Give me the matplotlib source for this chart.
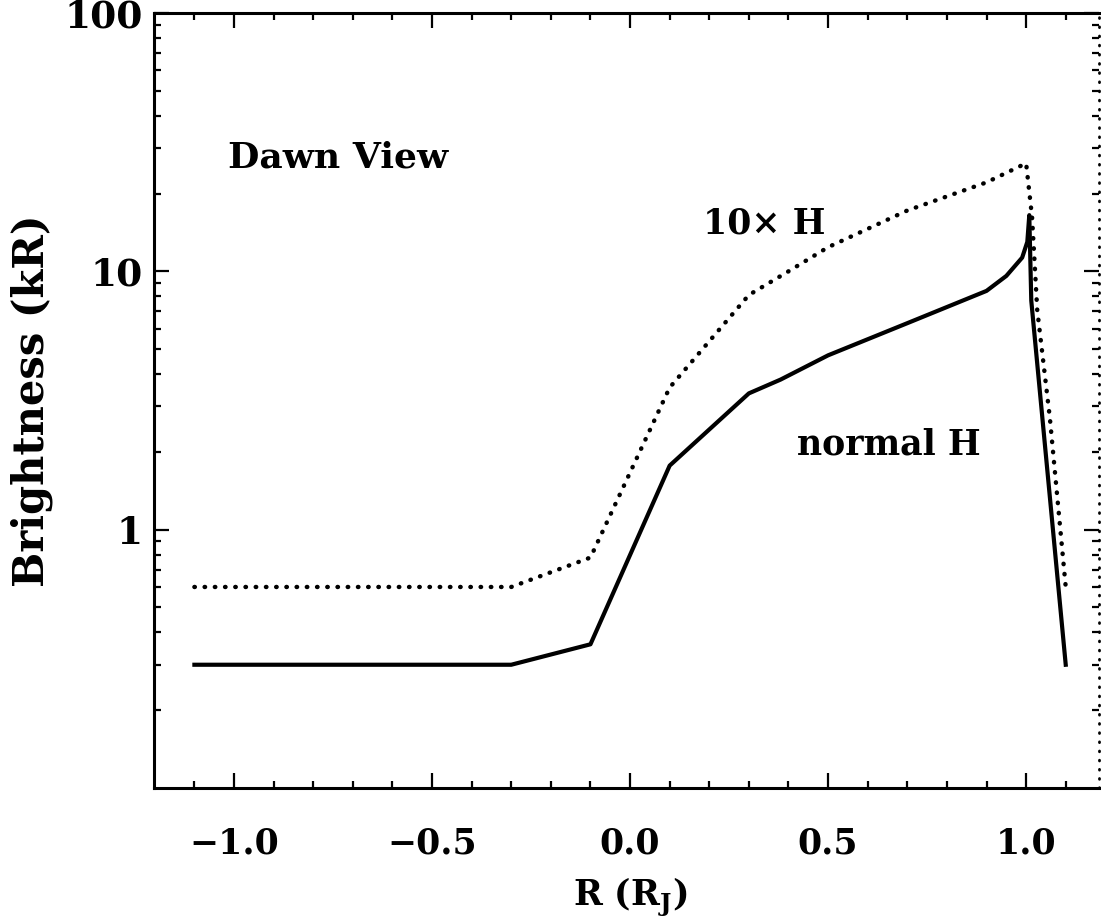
import numpy as np
import matplotlib
matplotlib.use("Agg")
import matplotlib.pyplot as plt
from matplotlib.ticker import FixedLocator, LogLocator, NullFormatter

plt.rcParams['font.family'] = ['DejaVu Serif']
plt.rcParams['font.weight'] = 'bold'
plt.rcParams['axes.labelweight'] = 'bold'
plt.rcParams['mathtext.fontset'] = 'custom'
plt.rcParams['mathtext.rm'] = 'DejaVu Serif:bold'

# normal H brightness profile
normal_x = [-1.1, -0.3, -0.1, 0.1, 0.3, 0.38, 0.5, 0.7, 0.9, 0.95, 0.99, 1.003, 1.008, 1.013, 1.1]
normal_y = [0.30, 0.30, 0.36, 1.77, 3.37, 3.81, 4.73, 6.3, 8.4, 9.6, 11.3, 13.0, 16.5, 7.7, 0.30]

# 10x H brightness profile
tenx_x = [-1.1, -0.3, -0.1, 0.1, 0.3, 0.4, 0.5, 0.7, 0.9, 1.0, 1.015, 1.028, 1.06, 1.1]
tenx_y = [0.60, 0.60, 0.78, 3.55, 8.1, 10.0, 12.4, 17.2, 22.1, 26.2, 16.2, 7.1, 2.7, 0.60]

xticks = [-1.0, -0.5, 0.0, 0.5, 1.0]
xticklabels = ['\u22121.0', '\u22120.5', '0.0', '0.5', '1.0']
yticks = [1, 10, 100]
yticklabels = ['1', '10', '100']

fig = plt.figure(figsize=(11.01, 9.19), dpi=100)
ax = fig.add_axes([154 / 1101, 1 - 788 / 919, (1099 - 154) / 1101, (788 - 13) / 919])

ax.plot(normal_x, normal_y, color='black', lw=3.0, solid_joinstyle='round')
ax.plot(tenx_x, tenx_y, color='black', lw=3.2, linestyle=(0, (0.1, 2.2)),
        dash_capstyle='round')

ax.set_yscale('log')
ax.set_xlim(-1.202, 1.184)
ax.set_ylim(0.1, 100)

ax.xaxis.set_major_locator(FixedLocator(xticks))
ax.set_xticklabels(xticklabels)
ax.xaxis.set_minor_locator(FixedLocator(np.round(np.arange(-1.1, 1.2, 0.1), 2)))
ax.yaxis.set_major_locator(FixedLocator(yticks))
ax.set_yticklabels(yticklabels)
ax.yaxis.set_minor_locator(LogLocator(base=10, subs=np.arange(2, 10)))
ax.yaxis.set_minor_formatter(NullFormatter())

ax.tick_params(which='both', direction='in', top=True, right=True, width=1.6, color='black')
ax.tick_params(which='major', length=11)
ax.tick_params(which='minor', length=5)
ax.tick_params(axis='x', which='major', labelsize=25, pad=28)
ax.tick_params(axis='y', which='major', labelsize=27, pad=8)

for side in ['left', 'bottom', 'top']:
    ax.spines[side].set_linewidth(2.2)
ax.spines['right'].set_linewidth(2.0)
ax.spines['right'].set_linestyle((0, (0.3, 3)))
ax.spines['right'].set_capstyle('round')

ax.set_ylabel('Brightness (kR)', fontsize=30)
ax.yaxis.set_label_coords(-0.107, 0.5)
ax.set_xlabel('R (R$_{\\mathrm{J}}$)', fontsize=25)
ax.xaxis.set_label_coords(0.504, -0.113)

ax.text(0.078, 0.801, 'Dawn View', transform=ax.transAxes, fontsize=26, va='baseline')
ax.text(0.581, 0.716, '10\u00d7 H', transform=ax.transAxes, fontsize=25, va='baseline')
ax.text(0.680, 0.430, 'normal H', transform=ax.transAxes, fontsize=25, va='baseline')

fig.savefig('out.png', dpi=100)
